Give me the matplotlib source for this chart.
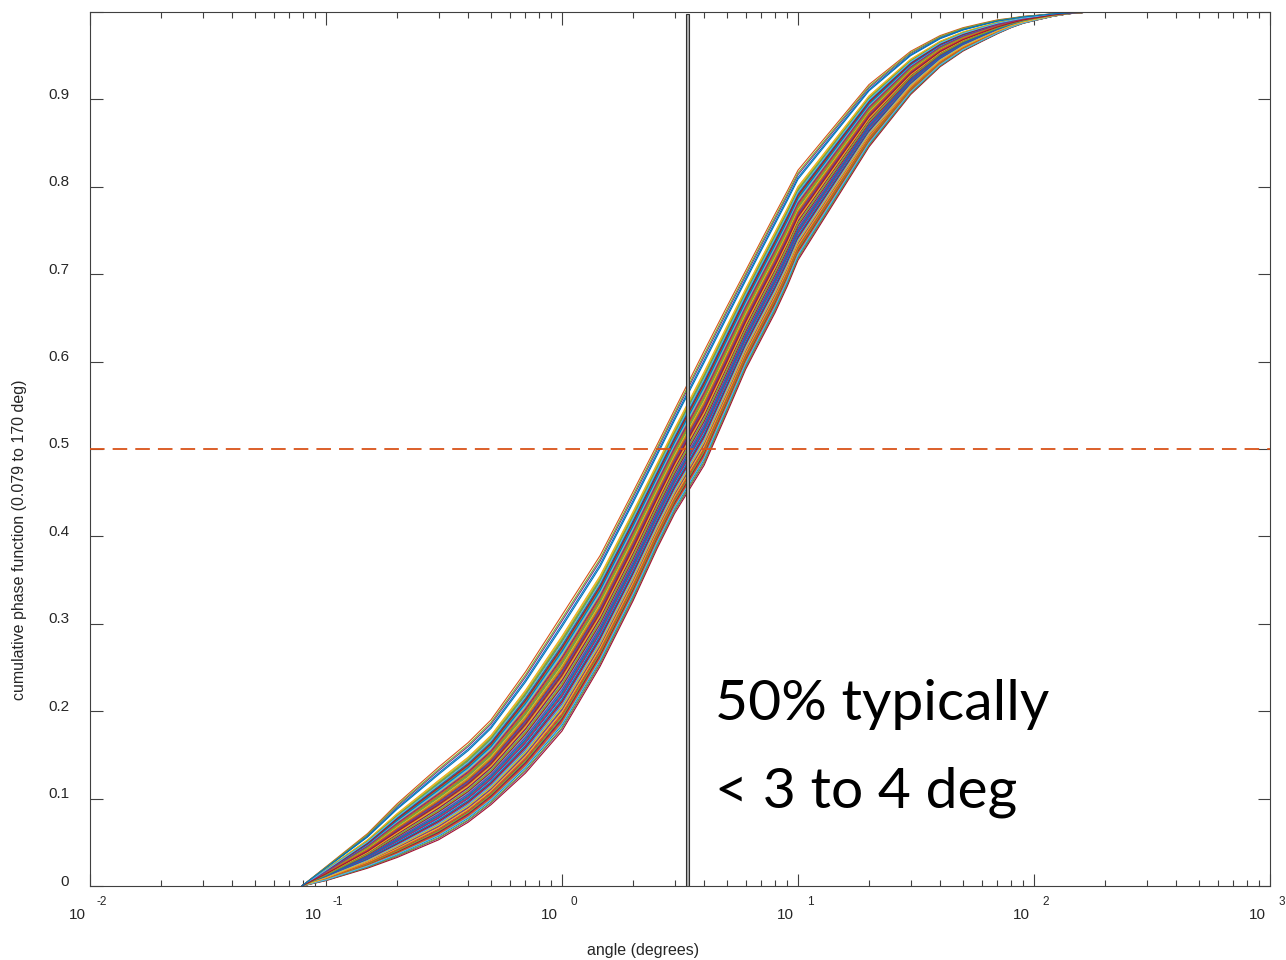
import numpy as np
import matplotlib
matplotlib.use('Agg')
import matplotlib.pyplot as plt
from matplotlib.transforms import ScaledTranslation, blended_transform_factory
from matplotlib.patches import Rectangle

# ---- data ----
angles = [0.079, 0.1, 0.15, 0.2, 0.3, 0.4, 0.5, 0.7, 1.0, 1.45, 2.0, 2.53, 3.0,
          4, 5, 6, 7, 8, 9, 10, 20, 30, 40, 50, 60, 70, 80, 90, 100, 120, 140, 170]
upper_env = [0, 0.022, 0.06, 0.094, 0.136, 0.164, 0.19, 0.245, 0.31, 0.378,
             0.451, 0.505, 0.545, 0.612, 0.663, 0.704, 0.739, 0.769, 0.795, 0.819,
             0.917, 0.955, 0.973, 0.982, 0.987, 0.991, 0.993, 0.995, 0.996, 0.998,
             0.999, 1.0]
lower_env = [0, 0.006, 0.02, 0.032, 0.052, 0.072, 0.092, 0.128, 0.176, 0.25,
             0.325, 0.385, 0.425, 0.48, 0.54, 0.59, 0.625, 0.655, 0.685, 0.715,
             0.845, 0.905, 0.937, 0.955, 0.966, 0.975, 0.982, 0.987, 0.99, 0.995,
             0.998, 1.0]
# position of each curve within the band (0 = lower envelope, 1 = upper)
curve_pos = [0.90, 1.00, 0.55, 0.95, 0.97, 0.80, 0.30,
             0.12, 0.42, 0.66, 0.03, 0.79, 0.25, 0.01,
             0.48, 0.71, 0.18, 0.60, 0.04, 0.37, 0.53,
             0.33, 0.08, 0.75, 0.45, 0.22, 0.68, 0.14,
             0.58, 0.27, 0.81, 0.10, 0.50, 0.35, 0.63,
             0.20, 0.73, 0.40, 0.16, 0.56, 0.29, 0.77,
             0.06, 0.47, 0.65, 0.24, 0.70, 0.38, 0.11,
             0.52, 0.32, 0.82, 0.19, 0.61, 0.43, 0.26,
             0.74, 0.09, 0.57, 0.36, 0.13, 0.67, 0.44,
             0.28, 0.62, 0.17, 0.51, 0.78, 0.23, 0.39,
             0.69, 0.15, 0.46, 0.31, 0.59, 0.07, 0.72,
             0.34, 0.54, 0.21, 0.64, 0.41, 0.76, 0.49, 0.92]
half_level = 0.5
marker_range = [3.35, 3.45]
yticks = [0, 0.1, 0.2, 0.3, 0.4, 0.5, 0.6, 0.7, 0.8, 0.9, 1.0]
ytick_labels = ['0', '0.1', '0.2', '0.3', '0.4', '0.5', '0.6', '0.7', '0.8', '0.9', '']
xtick_exps = [-2, -1, 0, 1, 2, 3]

colors = ['#0072BD', '#D95319', '#EDB120', '#7E2F8E', '#77AC30', '#4DBEEE', '#A2142F']

plt.rcParams['font.family'] = ['Liberation Sans', 'DejaVu Sans']
plt.rcParams['lines.scale_dashes'] = False

W, H = 1286, 960
fig = plt.figure(figsize=(W / 100, H / 100), dpi=100)
ax = fig.add_axes([90 / W, 1 - 886 / H, 1180 / W, 874 / H])

ang = np.array(angles)
up = np.array(upper_env)
lo = np.array(lower_env)
for i, p in enumerate(curve_pos):
    ax.plot(ang, lo + p * (up - lo), color=colors[i % 7], lw=0.8, zorder=2)

ax.axhline(half_level, color='#D95319', lw=1.3, ls=(0, (10.5, 5.8)), zorder=3)

rect = Rectangle((marker_range[0], 0), marker_range[1] - marker_range[0], 0.998,
                 facecolor='#b0b0b0', edgecolor='#303030', lw=0.8, zorder=4)
ax.add_patch(rect)

ax.set_xscale('log')
ax.set_xlim(1e-2, 1e3)
ax.set_ylim(0, 1)

for s in ax.spines.values():
    s.set_color('#404040')
    s.set_linewidth(0.8)

ax.set_yticks(yticks)
ax.set_yticklabels(ytick_labels)
ax.set_xticks([10.0 ** e for e in xtick_exps])
ax.set_xticklabels([''] * len(xtick_exps))
ax.tick_params(which='major', direction='in', length=9, width=0.8, color='#404040',
               top=True, right=True, labelsize=11, labelcolor='#262626', pad=15)
ax.tick_params(which='minor', direction='in', length=4.5, width=0.8, color='#404040',
               top=True, right=True)
off = ScaledTranslation(0, 6 / 100, fig.dpi_scale_trans)
for lab in ax.get_yticklabels():
    lab.set_transform(lab.get_transform() + off)

trans = blended_transform_factory(ax.transData, fig.transFigure)
for e in xtick_exps:
    x = 10.0 ** e
    ax.text(x, 1 - 915 / H, '10', transform=trans + ScaledTranslation(-4 / 100, 0, fig.dpi_scale_trans),
            ha='right', va='center', fontsize=11, color='#262626', clip_on=False)
    ax.text(x, 1 - 902 / H, str(e), transform=trans + ScaledTranslation(12 / 100, 0, fig.dpi_scale_trans),
            ha='center', va='center', fontsize=8.5, color='#262626', clip_on=False)

fig.text(0.5, 1 - 950 / H, 'angle (degrees)', ha='center', va='center',
         fontsize=11.5, color='#262626')
fig.text(20 / W, 1 - 540 / H, 'cumulative phase function (0.079 to 170 deg)',
         ha='center', va='center', rotation=90, fontsize=11.5, color='#262626')

fig.text(715 / W, 1 - 720 / H, '50% typically', ha='left', va='baseline',
         fontsize=41, family=['Lato', 'DejaVu Sans'], color='black')
fig.text(715 / W, 1 - 807 / H, '< 3 to 4 deg', ha='left', va='baseline',
         fontsize=41, family=['Lato', 'DejaVu Sans'], color='black')

fig.savefig('out.png', dpi=100)
